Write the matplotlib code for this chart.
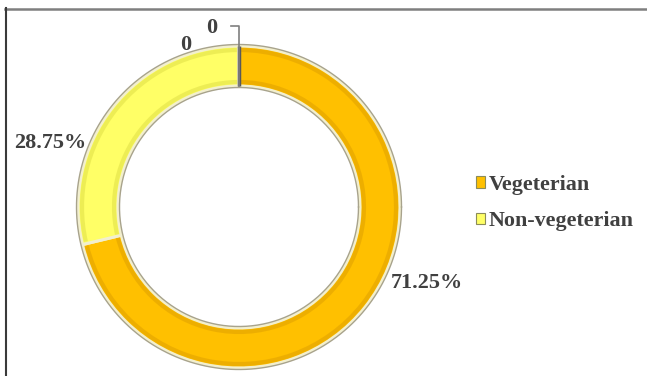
import matplotlib
matplotlib.use("Agg")
import matplotlib.pyplot as plt
from matplotlib.patches import Patch, Arc
from matplotlib.lines import Line2D
import numpy as np

categories = ["Vegeterian", "Non-vegeterian"]
shares = [71.25, 28.75]
share_labels = ["71.25%", "28.75%"]
zero_values = [0, 0]
zero_labels = ["0", "0"]

colors = ["#FFC000", "#FFFF66"]
shade_colors = ["#D99A00", "#D8D840"]
text_color = "#404040"
font = "Liberation Serif"

W, H = 647, 376
fig = plt.figure(figsize=(W / 100, H / 100), dpi=100)
ax = fig.add_axes([0, 0, 1, 1])

cx, cy = 239, H - 207
r_out = 161
ring = 40

wedges, _ = ax.pie(
    shares + zero_values,
    colors=colors + ["#595959", "#595959"],
    startangle=90,
    counterclock=False,
    center=(cx, cy),
    radius=r_out,
    frame=True,
    wedgeprops=dict(width=ring, edgecolor="#F2EFCF", linewidth=2.2),
)
ax.set_xlim(0, W)
ax.set_ylim(0, H)
ax.set_aspect("equal")
ax.axis("off")

# soft bevel shading along the inner and outer edges of each slice
for w, sc in zip(wedges[:2], shade_colors):
    t1, t2 = w.theta1, w.theta2
    for r in (r_out - 4, r_out - ring + 4):
        ax.add_patch(Arc((cx, cy), 2 * r, 2 * r, theta1=t1 + 0.8, theta2=t2 - 0.8,
                         color=sc, lw=3, alpha=0.45))

# thin outlines around the ring
theta = np.linspace(0, 2 * np.pi, 400)
for r in (r_out + 1.5, r_out - ring - 1.5):
    ax.plot(cx + r * np.cos(theta), cy + r * np.sin(theta), color="#A8A38C", lw=1.0)

# percentage labels outside the slices
label_pos = [(427, H - 283), (50, H - 143)]
for txt, (x, y) in zip(share_labels, label_pos):
    ax.text(x, y, txt, ha="center", va="center", fontsize=16,
            fontweight="bold", family=font, color=text_color)

# the two zero-sized slices sit at the top of the ring
top = cx
ax.plot([top, top], [cy + r_out - ring, cy + r_out], color="#595959", lw=2.5,
        solid_capstyle="butt")
ax.plot([top, top, 231], [cy + r_out - ring, H - 26, H - 26], color="#7F7F7F", lw=1.2)
ax.text(212, H - 28, zero_labels[0], ha="center", va="center", fontsize=16,
        fontweight="bold", family=font, color=text_color)
ax.text(186, H - 45, zero_labels[1], ha="center", va="center", fontsize=16,
        fontweight="bold", family=font, color=text_color)

handles = [Patch(facecolor=c, edgecolor="#8C8C5A", linewidth=0.8) for c in colors]
leg = ax.legend(handles, categories, loc="center left",
                bbox_to_anchor=(476 / W, 1 - 203 / H), frameon=False,
                borderpad=0, borderaxespad=0,
                handlelength=0.42, handleheight=0.42, handletextpad=0.15,
                labelspacing=0.75,
                prop=dict(family=font, weight="bold", size=15.8))
for t in leg.get_texts():
    t.set_color(text_color)

# figure frame: top and left edges
fig.add_artist(Line2D([5 / W, 1], [1 - 8.5 / H, 1 - 8.5 / H], color="#7F7F7F", lw=1.8))
fig.add_artist(Line2D([5.5 / W, 5.5 / W], [0, 1 - 8 / H], color="#3A3A3A", lw=1.5))

fig.savefig("out.png", dpi=100)
